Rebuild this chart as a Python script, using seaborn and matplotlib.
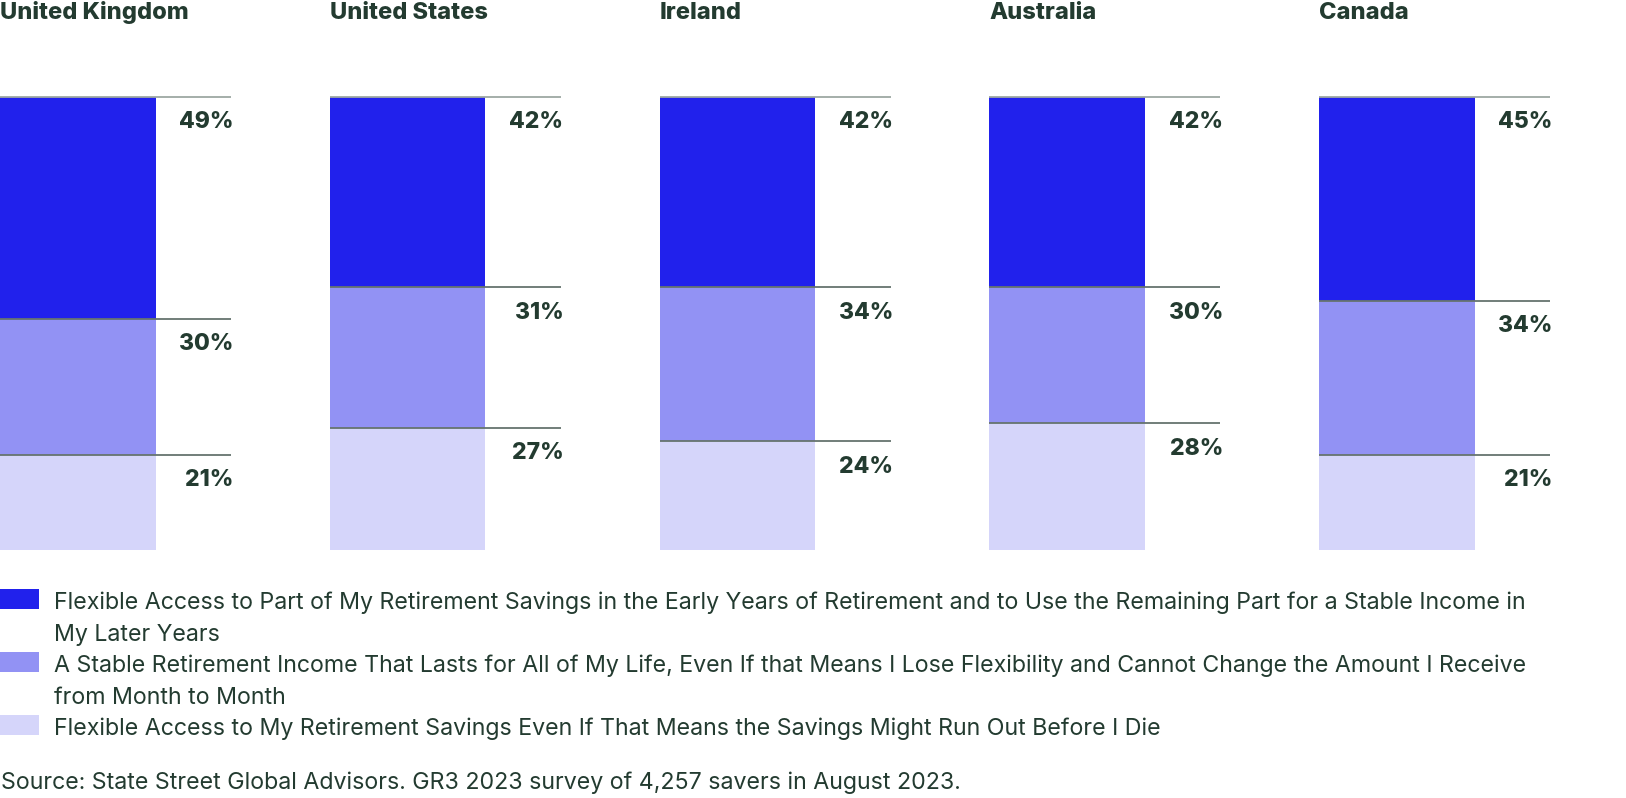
import matplotlib
matplotlib.use("Agg")
import matplotlib.pyplot as plt
import matplotlib.transforms as mtransforms
from matplotlib.patches import Rectangle
import seaborn as sns
import pandas as pd

# ---------------- data ----------------
countries = ["United Kingdom", "United States", "Ireland", "Australia", "Canada"]
flex_part = [49, 42, 42, 42, 45]      # top segment
stable_income = [30, 31, 34, 30, 34]  # middle segment
flex_all = [21, 27, 24, 28, 21]       # bottom segment

legend_lines = [
    ["Flexible Access to Part of My Retirement Savings in the Early Years of Retirement and to Use the Remaining Part for a Stable Income in",
     "My Later Years"],
    ["A Stable Retirement Income That Lasts for All of My Life, Even If that Means I Lose Flexibility and Cannot Change the Amount I Receive",
     "from Month to Month"],
    ["Flexible Access to My Retirement Savings Even If That Means the Savings Might Run Out Before I Die"],
]
segments = ["flex_part", "stable_income", "flex_all"]
source_text = "Source: State Street Global Advisors. GR3 2023 survey of 4,257 savers in August 2023."

# ---------------- style ----------------
colors = ["#2121EC", "#9292F4", "#D5D5FA"]
text_color = "#233B30"
sns.set_theme(style="white")
plt.rcParams["font.family"] = ["Inter", "DejaVu Sans"]

W, H = 1626, 798
fig = plt.figure(figsize=(W / 100, H / 100), dpi=100)

spacing_px = 329.8
bar_px = 155.6
line_px = 231.0
bar_w = bar_px / spacing_px
axes_w_px = 4 * spacing_px + line_px
y_top_px, y_bot_px = 97.0, 550.0

ax = fig.add_axes([0, 1 - y_bot_px / H, axes_w_px / W, (y_bot_px - y_top_px) / H])

# cumulative heights for overlapping (stacked) bars
rows = []
for i, c in enumerate(countries):
    cum_top = flex_part[i] + stable_income[i] + flex_all[i]
    cum_mid = stable_income[i] + flex_all[i]
    cum_bot = flex_all[i]
    rows.append({"country": c, "segment": "flex_part", "cum": cum_top})
    rows.append({"country": c, "segment": "stable_income", "cum": cum_mid})
    rows.append({"country": c, "segment": "flex_all", "cum": cum_bot})
df = pd.DataFrame(rows)

sns.barplot(data=df, x="country", y="cum", hue="segment", hue_order=segments,
            order=countries, palette=colors, dodge=False, width=bar_w,
            saturation=1, errorbar=None, legend=False, linewidth=0, ax=ax)

x0 = -bar_w / 2
ax.set_xlim(x0, x0 + axes_w_px / spacing_px)
ax.set_ylim(0, 100)
ax.axis("off")

line_len = line_px / spacing_px
title_tr = mtransforms.blended_transform_factory(ax.transData, fig.transFigure)
for i, c in enumerate(countries):
    left = i - bar_w / 2
    right = left + line_len
    cum_top = flex_part[i] + stable_income[i] + flex_all[i]
    cum_mid = stable_income[i] + flex_all[i]
    cum_bot = flex_all[i]
    bounds = [cum_top, cum_mid, cum_bot]
    vals = [flex_part[i], stable_income[i], flex_all[i]]
    lcols = ["#9DA8A3", "#66746E", "#66746E"]
    for b, v, lc in zip(bounds, vals, lcols):
        ax.hlines(b, left, right, color=lc, lw=1.3, clip_on=False, zorder=5)
        ax.annotate(f"{v}%", xy=(right, b), xytext=(1.8, -22.6),
                    textcoords="offset points", ha="right", va="baseline",
                    fontsize=16.5, fontweight="heavy", color=text_color)
    ax.text(left, 1 - 19 / H, c, transform=title_tr, ha="left", va="baseline",
            fontsize=17.0, fontweight="heavy", color=text_color)

# ---------------- legend ----------------
baseline = 609.0
line_step = 31.6
for k, lines in enumerate(legend_lines):
    fig.add_artist(Rectangle((0, 1 - baseline / H), 39.3 / W, 20 / H,
                             transform=fig.transFigure, facecolor=colors[k],
                             edgecolor="none"))
    for ln in lines:
        fig.text(54 / W, 1 - baseline / H, ln, ha="left", va="baseline",
                 fontsize=16.7, color=text_color)
        baseline += line_step

fig.text(1 / W, 1 - 789 / H, source_text, ha="left", va="baseline",
         fontsize=16.7, color=text_color)

fig.savefig("out.png", dpi=100)
